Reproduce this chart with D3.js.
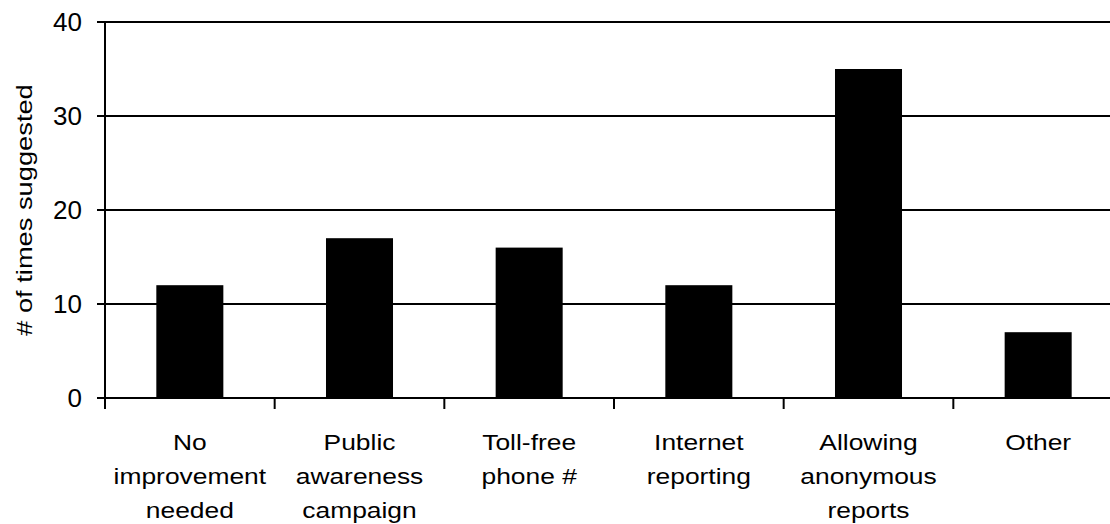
<!DOCTYPE html>
<html>
<head>
<meta charset="utf-8">
<script src="https://cdn.jsdelivr.net/npm/d3@7"></script>
<style>
  html, body { margin: 0; padding: 0; background: #fff; }
  svg { display: block; font-family: "Liberation Sans", Arial, sans-serif; }
</style>
</head>
<body>
<svg id="chart" width="1110" height="524"></svg>
<script>
// Suggested improvements and how often each was suggested
const categories = [
  ["No", "improvement", "needed"],
  ["Public", "awareness", "campaign"],
  ["Toll-free", "phone #"],
  ["Internet", "reporting"],
  ["Allowing", "anonymous", "reports"],
  ["Other"]
];
const counts = [12, 17, 16, 12, 35, 7];
const yTicks = [0, 10, 20, 30, 40];
const yTitle = "# of times suggested";

const svg = d3.select("#chart");
const keys = categories.map((c, i) => i);

// plot frame: left axis at x=105, right edge runs past the canvas
const x = d3.scaleBand().domain(keys).range([105, 1123]).padding(0);
const y = d3.scaleLinear().domain([0, 40]).range([398, 22]);
const barFrac = 0.395;
const stretch = 1.2; // labels are set slightly wide

// horizontal gridlines (with left tick stubs)
svg.append("g")
  .selectAll("line")
  .data(yTicks)
  .join("line")
  .attr("x1", 97)
  .attr("x2", 1123)
  .attr("y1", d => y(d))
  .attr("y2", d => y(d))
  .attr("stroke", "#000")
  .attr("stroke-width", 2);

// y tick labels
svg.append("g")
  .selectAll("text")
  .data(yTicks)
  .join("text")
  .attr("x", 82)
  .attr("y", d => y(d))
  .attr("dy", "0.36em")
  .attr("text-anchor", "end")
  .attr("font-size", 26)
  .attr("fill", "#000")
  .text(d => d);

// bars
svg.append("g")
  .selectAll("rect")
  .data(counts)
  .join("rect")
  .attr("x", (d, i) => x(i) + x.bandwidth() * (1 - barFrac) / 2)
  .attr("width", x.bandwidth() * barFrac)
  .attr("y", d => y(d))
  .attr("height", d => y(0) - y(d))
  .attr("fill", "#000");

// y axis line
svg.append("line")
  .attr("x1", 105).attr("x2", 105)
  .attr("y1", y(40) - 1).attr("y2", y(0))
  .attr("stroke", "#000").attr("stroke-width", 2);

// x tick marks at category boundaries
const boundaries = keys.map(i => x(i)).concat([x(keys.length - 1) + x.bandwidth()]);
svg.append("g")
  .selectAll("line")
  .data(boundaries)
  .join("line")
  .attr("x1", d => d).attr("x2", d => d)
  .attr("y1", y(0)).attr("y2", y(0) + 11)
  .attr("stroke", "#000").attr("stroke-width", 2);

// category labels, wrapped onto several lines
const lab = svg.append("g")
  .selectAll("g")
  .data(categories)
  .join("g")
  .attr("transform", (d, i) => `translate(${x(i) + x.bandwidth() / 2},0) scale(${stretch},1)`)
  .append("text")
  .attr("text-anchor", "middle")
  .attr("font-size", 22)
  .attr("fill", "#000");
lab.each(function (lines) {
  d3.select(this).selectAll("tspan")
    .data(lines)
    .join("tspan")
    .attr("x", 0)
    .attr("y", (d, j) => 450 + j * 34)
    .text(d => d);
});

// y axis title
svg.append("text")
  .attr("transform", `translate(32,${(y(0) + y(40)) / 2}) rotate(-90) scale(1.24,1)`)
  .attr("text-anchor", "middle")
  .attr("font-size", 22)
  .attr("fill", "#000")
  .text(yTitle);
</script>
</body>
</html>
